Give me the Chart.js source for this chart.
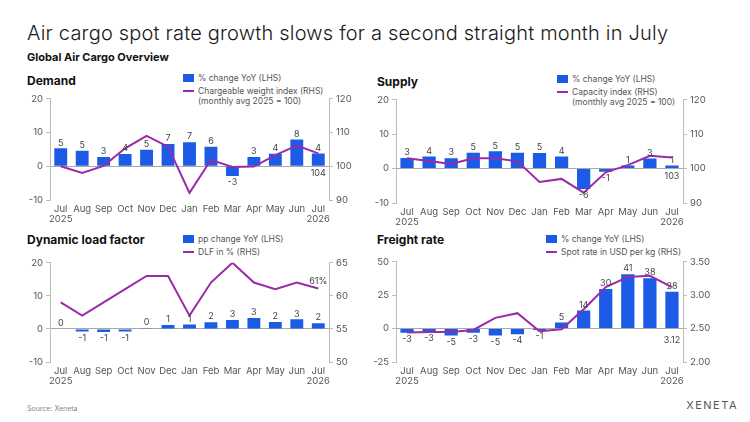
<!DOCTYPE html>
<html lang="en">
<head>
  <meta charset="UTF-8">
  <title>Global Air Cargo Overview</title>
  <script src="https://cdn.jsdelivr.net/npm/chart.js"></script>
  <style>
    body {
      margin: 0;
      width: 750px;
      height: 422px;
      background: #fff;
      font-family: 'Inter', 'Lato', sans-serif;
      position: relative;
      overflow: hidden;
      color: #111;
    }
    .abs { position: absolute; }
    h1 {
      position: absolute; left: 27px; top: 21px; margin: 0;
      font-size: 20px; font-weight: 300; color: #1a1a1a; letter-spacing: 0.2px;
    }
    .sub { left: 27px; top: 50px; font-size: 11px; font-weight: 700; }
    .ptitle { font-size: 12px; font-weight: 700; color: #111; }
    .legend { font-size: 8.5px; color: #555; line-height: 10px; }
    .legend .row { display: flex; align-items: flex-start; }
    .box { width: 11px; height: 8px; background: #1c5be6; margin-right: 4px; margin-top: 1px; }
    .ln { width: 11px; height: 2px; background: #9b2aa8; margin-right: 4px; margin-top: 4px; }
    .source { left: 27px; top: 404px; font-size: 7px; color: #888; }
    .brand { right: 12px; top: 398px; font-size: 11px; color: #555; letter-spacing: 1.5px; }
    canvas { position: absolute; }
  </style>
</head>
<body>
  <h1>Air cargo spot rate growth slows for a second straight month in July</h1>
  <div class="abs sub">Global Air Cargo Overview</div>

  <div class="abs ptitle" style="left:27px; top:73px;">Demand</div>
  <div class="abs legend" style="left:183px; top:73px;">
    <div class="row"><div class="box"></div>% change YoY (LHS)</div>
    <div class="row" style="margin-top:3px;"><div class="ln"></div>Chargeable weight index (RHS)<br>(monthly avg 2025 = 100)</div>
  </div>

  <div class="abs ptitle" style="left:377px; top:74px;">Supply</div>
  <div class="abs legend" style="left:557px; top:74px;">
    <div class="row"><div class="box"></div>% change YoY (LHS)</div>
    <div class="row" style="margin-top:3px;"><div class="ln"></div>Capacity index (RHS)<br>(monthly avg 2025 = 100)</div>
  </div>

  <div class="abs ptitle" style="left:27px; top:232px;">Dynamic load factor</div>
  <div class="abs legend" style="left:183px; top:234px;">
    <div class="row"><div class="box"></div>pp change YoY (LHS)</div>
    <div class="row" style="margin-top:3px;"><div class="ln"></div>DLF in % (RHS)</div>
  </div>

  <div class="abs ptitle" style="left:377px; top:232px;">Freight rate</div>
  <div class="abs legend" style="left:546px; top:234px;">
    <div class="row"><div class="box"></div>% change YoY (LHS)</div>
    <div class="row" style="margin-top:3px;"><div class="ln"></div>Spot rate in USD per kg (RHS)</div>
  </div>

  <canvas id="demand" style="left:20px; top:90px;" width="340" height="140"></canvas>
  <canvas id="supply" style="left:366px; top:91px;" width="350" height="142"></canvas>
  <canvas id="dlf" style="left:20px; top:254px;" width="340" height="138"></canvas>
  <canvas id="freight" style="left:366px; top:253px;" width="350" height="139"></canvas>

  <div class="abs source">Source: Xeneta</div>
  <div class="abs brand">XENETA</div>

  <script>
    const months = [['Jul', '2025'], 'Aug', 'Sep', 'Oct', 'Nov', 'Dec', 'Jan', 'Feb', 'Mar', 'Apr', 'May', 'Jun', ['Jul', '2026']];

    const demandYoY = [5.3, 4.6, 2.7, 3.6, 4.9, 6.6, 7.1, 5.8, -2.9, 2.7, 3.7, 7.9, 3.8];
    const demandIndex = [100.0, 98.0, 100.1, 105.3, 109.0, 105.8, 92.1, 101.9, 99.8, 99.9, 103.3, 106.1, 103.8];

    const supplyYoY = [3.1, 3.5, 3.0, 4.6, 5.0, 4.6, 4.5, 3.5, -5.9, -0.9, 0.9, 2.9, 0.9];
    const supplyIndex = [103.0, 102.2, 101.3, 103.0, 103.0, 102.1, 96.1, 97.0, 93.0, 98.9, 101.0, 103.7, 103.2];

    const dlfYoY = [0.0, -0.8, -0.9, -0.8, 0.2, 1.2, 1.3, 2.0, 2.7, 3.3, 2.1, 2.9, 1.7];
    const dlfPct = [59.0, 57.0, 59.0, 61.0, 63.0, 63.0, 57.0, 62.0, 65.0, 62.0, 61.0, 62.0, 61.1];

    const rateYoY = [-3.2, -2.7, -5.1, -3.2, -5.1, -4.2, -1.0, 4.6, 13.6, 29.6, 40.6, 37.6, 27.6];
    const spotRate = [2.44, 2.45, 2.45, 2.48, 2.66, 2.73, 2.46, 2.49, 2.79, 3.12, 3.27, 3.29, 3.12];

    const BLUE = '#1c5be6';
    const PURPLE = '#9b2aa8';
    const AXIS = '#bdbdbd';
    const FONT = 'Inter, Lato, sans-serif';

    // value labels on bars + last value of the line
    const valueLabels = {
      id: 'valueLabels',
      afterDatasetsDraw(chart, args, opts) {
        const ctx = chart.ctx;
        ctx.save();
        ctx.font = '9px ' + FONT;
        ctx.fillStyle = '#444';
        ctx.textAlign = 'center';
        const barMeta = chart.getDatasetMeta(1);
        const vals = chart.data.datasets[1].data;
        barMeta.data.forEach((bar, i) => {
          const v = vals[i];
          const r = Math.round(v);
          const txt = String(r === 0 ? 0 : r);
          if (v >= 0) {
            ctx.textBaseline = 'bottom';
            ctx.fillText(txt, bar.x, bar.y - 1);
          } else {
            ctx.textBaseline = 'top';
            ctx.fillText(txt, bar.x, bar.y + 2);
          }
        });
        const lineMeta = chart.getDatasetMeta(0);
        const line = chart.data.datasets[0].data;
        const last = lineMeta.data[line.length - 1];
        const txt = opts.fmt(line[line.length - 1]);
        if (opts.mode === 'above') {
          ctx.textBaseline = 'bottom';
          ctx.fillText(txt, last.x, last.y - 3);
        } else {
          const zeroY = chart.scales.y.getPixelForValue(0);
          ctx.textBaseline = 'top';
          ctx.fillText(txt, last.x, zeroY + opts.offset);
        }
        ctx.restore();
      }
    };

    function makeChart(id, barData, lineData, cfg) {
      const canvas = document.getElementById(id);
      return new Chart(canvas, {
        data: {
          labels: months,
          datasets: [
            {
              type: 'line', data: lineData, yAxisID: 'y1', order: 0,
              borderColor: PURPLE, borderWidth: 2, pointRadius: 0, tension: 0
            },
            {
              type: 'bar', data: barData, yAxisID: 'y', order: 1,
              backgroundColor: BLUE, categoryPercentage: 1, barPercentage: 0.6
            }
          ]
        },
        options: {
          responsive: false,
          animation: false,
          layout: { padding: { top: cfg.top, left: 0, right: 0, bottom: 0 } },
          plugins: {
            legend: { display: false },
            tooltip: { enabled: false },
            valueLabels: cfg.label
          },
          scales: {
            x: {
              grid: { display: false },
              border: { display: false },
              ticks: { color: '#555', font: { size: 9.5, family: FONT, lineHeight: 1.05 }, padding: -4, maxRotation: 0, autoSkip: false },
              afterFit(s) { s.height = 30; }
            },
            y: {
              position: 'left',
              min: cfg.yMin, max: cfg.yMax,
              ticks: { stepSize: cfg.yStep, color: '#555', font: { size: 9.5, family: FONT }, padding: 3 },
              grid: {
                drawOnChartArea: true,
                color: c => (c.tick && c.tick.value === 0 ? '#a8a8a8' : 'rgba(0,0,0,0)'),
                tickColor: AXIS, tickLength: 4, lineWidth: 1
              },
              border: { display: true, color: AXIS },
              afterFit(s) { s.width = cfg.leftW; }
            },
            y1: {
              position: 'right',
              min: cfg.rMin, max: cfg.rMax,
              ticks: {
                stepSize: cfg.rStep, color: '#555', font: { size: 9.5, family: FONT }, padding: 3,
                callback: cfg.rFmt
              },
              grid: { drawOnChartArea: false, tickColor: AXIS, tickLength: 4 },
              border: { display: true, color: AXIS },
              afterFit(s) { s.width = cfg.rightW; }
            }
          }
        },
        plugins: [valueLabels]
      });
    }

    makeChart('demand', demandYoY, demandIndex, {
      top: 7, leftW: 30, rightW: 31,
      yMin: -10, yMax: 20, yStep: 10, rMin: 90, rMax: 120, rStep: 10,
      rFmt: v => v,
      label: { mode: 'below', offset: 3, fmt: v => String(Math.round(v)) }
    });

    makeChart('supply', supplyYoY, supplyIndex, {
      top: 7, leftW: 30, rightW: 33,
      yMin: -10, yMax: 20, yStep: 10, rMin: 90, rMax: 120, rStep: 10,
      rFmt: v => v,
      label: { mode: 'below', offset: 3, fmt: v => String(Math.round(v)) }
    });

    makeChart('dlf', dlfYoY, dlfPct, {
      top: 7, leftW: 30, rightW: 31,
      yMin: -10, yMax: 20, yStep: 10, rMin: 50, rMax: 65, rStep: 5,
      rFmt: v => v,
      label: { mode: 'above', fmt: v => Math.round(v) + '%' }
    });

    makeChart('freight', rateYoY, spotRate, {
      top: 7, leftW: 30, rightW: 33,
      yMin: -25, yMax: 50, yStep: 25, rMin: 2, rMax: 3.5, rStep: 0.5,
      rFmt: v => v.toFixed(2),
      label: { mode: 'below', offset: 7, fmt: v => v.toFixed(2) }
    });
  </script>
</body>
</html>
